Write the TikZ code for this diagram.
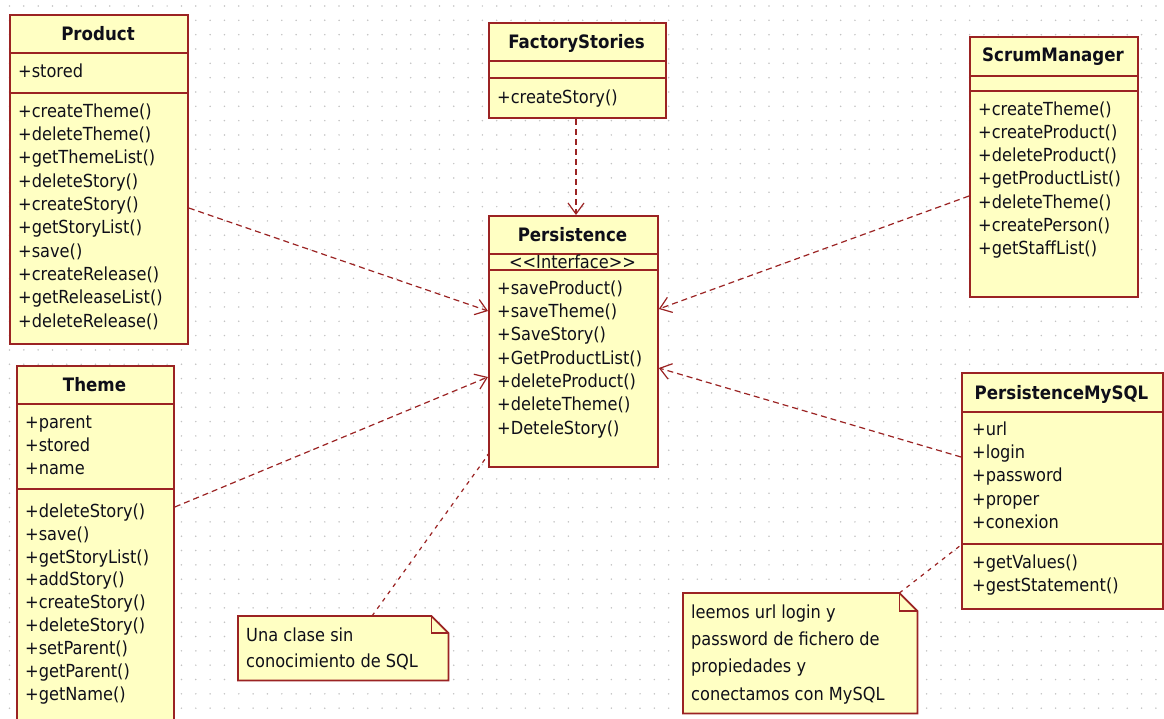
\documentclass[tikz,border=0pt]{standalone}
\usepackage{fontspec}
\setmainfont[FakeStretch=0.9]{DejaVu Sans}
\usetikzlibrary{arrows.meta}
\definecolor{umlborder}{RGB}{155,35,35}
\definecolor{umlfill}{RGB}{255,255,195}
\definecolor{griddot}{RGB}{195,195,195}
\definecolor{umltext}{RGB}{15,15,25}

% list of member lines of a compartment: name prefix, x, first y, line step, entries
\newcommand\umlmembers[5]{%
  \foreach \txt [count=\k from 0] in {#5} {\node[member] (#1-\k) at (#2,{#3+#4*\k}) {\txt};}}

\begin{document}
\begin{tikzpicture}[x=1pt,y=-1pt,
  classbox/.style={draw=umlborder, fill=umlfill, line width=1.8pt, inner sep=0pt, anchor=north west},
  sepline/.style={draw=umlborder, line width=1.8pt},
  title/.style={font=\fontsize{18.5}{22}\selectfont\bfseries, text=umltext, inner sep=0pt, yshift=-2pt},
  member/.style={font=\fontsize{18}{22}\selectfont, text=umltext, inner sep=0pt, anchor=mid west, yshift=-2.5pt},
  notebox/.style={inner sep=0pt, anchor=north west},
  noteshape/.style={draw=umlborder, fill=umlfill, line width=1.8pt, line join=miter},
  dep/.style={draw=umlborder, line width=1.2pt, dash pattern=on 6pt off 4pt,
    -{Straight Barb[length=11pt,width=16pt,line width=1.2pt]}},
  notelink/.style={draw=umlborder, line width=1.2pt, dash pattern=on 4pt off 5pt},
]
\useasboundingbox (0,0) rectangle (1164,718);
\fill[white] (0,0) rectangle (1164,718);

% dotted drawing grid
\foreach \i in {0,...,81}
  \foreach \j in {0,...,49}
    \fill[griddot] ({9.5+14.33*\i},{6+14.33*\j}) circle (0.85);

% ---------- Product ----------
\node[classbox, minimum width=178pt, minimum height=329pt] (product) at (9,14) {};
\draw[sepline] (9,53) -- (187,53);
\draw[sepline] (9,93) -- (187,93);
\node[title] (product-title) at (98,32) {Product};
\umlmembers{product-a}{18}{72}{23.33}{+stored}
\umlmembers{product-m}{18}{112}{23.33}{+createTheme(),+deleteTheme(),+getThemeList(),+deleteStory(),+createStory(),+getStoryList(),+save(),+createRelease(),+getReleaseList(),+deleteRelease()}

% ---------- FactoryStories ----------
\node[classbox, minimum width=177pt, minimum height=95pt] (factory) at (488,22) {};
\draw[sepline] (488,61) -- (665,61);
\draw[sepline] (488,78) -- (665,78);
\node[title] (factory-title) at (576.5,41) {FactoryStories};
\umlmembers{factory-m}{497}{98}{23.33}{+createStory()}

% ---------- Persistence ----------
\node[classbox, minimum width=169pt, minimum height=251pt] (persistence) at (488,215) {};
\draw[sepline] (488,254) -- (657,254);
\draw[sepline] (488,270) -- (657,270);
\node[title] (persistence-title) at (572.5,233) {Persistence};
\node[member, anchor=mid, yshift=1pt] (persistence-stereo) at (572.5,264) {<\kern0pt<Interface>\kern0pt>};
\umlmembers{persistence-m}{497}{289}{23.33}{+saveProduct(),+saveTheme(),+SaveStory(),+GetProductList(),+deleteProduct(),+deleteTheme(),+DeteleStory()}

% ---------- ScrumManager ----------
\node[classbox, minimum width=168pt, minimum height=260pt] (scrum) at (969,36) {};
\draw[sepline] (969,76) -- (1137,76);
\draw[sepline] (969,91) -- (1137,91);
\node[title] (scrum-title) at (1053,55) {ScrumManager};
\umlmembers{scrum-m}{978}{110}{23.2}{+createTheme(),+createProduct(),+deleteProduct(),+getProductList(),+deleteTheme(),+createPerson(),+getStaffList()}

% ---------- Theme ----------
\node[classbox, minimum width=157pt, minimum height=380pt] (theme) at (16,365) {};
\draw[sepline] (16,404) -- (173,404);
\draw[sepline] (16,489) -- (173,489);
\node[title] (theme-title) at (94.5,383) {Theme};
\umlmembers{theme-a}{25}{423}{23}{+parent,+stored,+name}
\umlmembers{theme-m}{25}{512}{22.9}{+deleteStory(),+save(),+getStoryList(),+addStory(),+createStory(),+deleteStory(),+setParent(),+getParent(),+getName()}

% ---------- PersistenceMySQL ----------
\node[classbox, minimum width=201pt, minimum height=236pt] (mysql) at (961,372) {};
\draw[sepline] (961,412) -- (1162,412);
\draw[sepline] (961,544) -- (1162,544);
\node[title] (mysql-title) at (1061.5,392) {PersistenceMySQL};
\umlmembers{mysql-a}{972}{430}{23.3}{+url,+login,+password,+proper,+conexion}
\umlmembers{mysql-m}{972}{563}{23.5}{+getValues(),+gestStatement()}

% ---------- notes ----------
\node[notebox, minimum width=210pt, minimum height=64pt] (note1) at (238,616) {};
\draw[noteshape] (note1.north west) -- ([xshift=-17pt]note1.north east)
  -- ([yshift=-17pt]note1.north east) -- (note1.south east) -- (note1.south west) -- cycle;
\draw[umlborder, line width=1.2pt] ([xshift=-17pt]note1.north east) |- ([yshift=-17pt]note1.north east);
\umlmembers{note1-t}{246}{636}{26}{Una clase sin,conocimiento de SQL}

\node[notebox, minimum width=234pt, minimum height=120pt] (note2) at (683,593) {};
\draw[noteshape] (note2.north west) -- ([xshift=-18pt]note2.north east)
  -- ([yshift=-18pt]note2.north east) -- (note2.south east) -- (note2.south west) -- cycle;
\draw[umlborder, line width=1.2pt] ([xshift=-18pt]note2.north east) |- ([yshift=-18pt]note2.north east);
\umlmembers{note2-t}{691}{613}{27.3}{leemos url login y,password de fichero de,propiedades y,conectamos con MySQL}

% ---------- dependencies ----------
\draw[dep] (product.east |- 0,208) -- (persistence.west |- 0,311);
\draw[dep] (theme.east |- 0,507) -- (persistence.west |- 0,377);
\draw[dep] (factory.south -| 576,0) -- (persistence.north -| 576,0);
\draw[dep] (scrum.west |- 0,196) -- (persistence.east |- 0,309);
\draw[dep] (mysql.west |- 0,457) -- (persistence.east |- 0,368);

% ---------- note anchors ----------
\draw[notelink] (note1.north -| 372,0) -- (persistence.west |- 0,455);
\fill[umlborder] (persistence.west |- 0,455) circle (1.3);
\draw[notelink] ([xshift=-18pt]note2.north east) -- (mysql.west |- 0,545);
\end{tikzpicture}
\end{document}
